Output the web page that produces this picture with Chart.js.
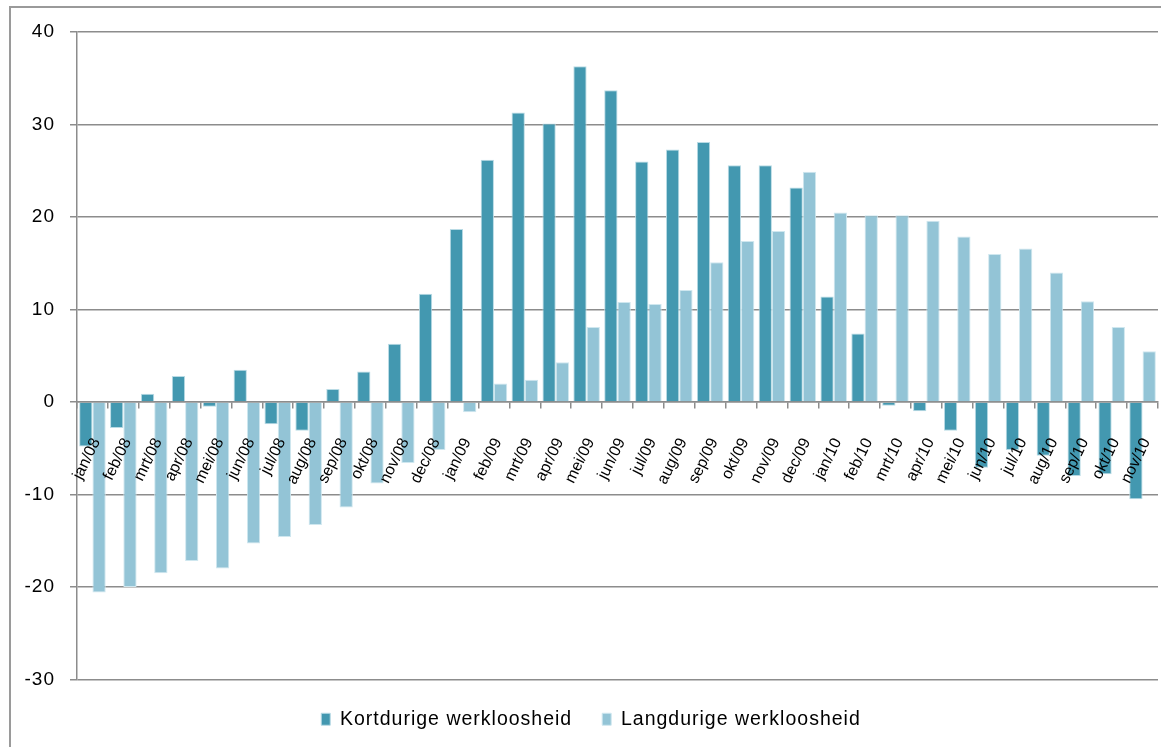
<!DOCTYPE html>
<html>
<head>
<meta charset="utf-8">
<script src="https://cdn.jsdelivr.net/npm/chart.js@4.4.0/dist/chart.umd.min.js"></script>
<style>
    html, body { margin: 0; padding: 0; background: #fff; overflow: hidden; }
    #wrap { position: relative; width: 1161px; height: 747px; }
    #frame { position: absolute; left: 9px; top: 6px; width: 1200px; height: 800px; border: 2px solid #9a9a9a; box-sizing: border-box; }
    #chart { position: absolute; left: 0; top: 0; }
</style>
</head>
<body>
<div id="wrap">
    <div id="frame"></div>
    <canvas id="chart" width="1161" height="747"></canvas>
</div>
<script>
// maanden
const maanden = ['jan/08', 'feb/08', 'mrt/08', 'apr/08', 'mei/08', 'jun/08', 'jul/08', 'aug/08', 'sep/08', 'okt/08', 'nov/08', 'dec/08',
    'jan/09', 'feb/09', 'mrt/09', 'apr/09', 'mei/09', 'jun/09', 'jul/09', 'aug/09', 'sep/09', 'okt/09', 'nov/09', 'dec/09',
    'jan/10', 'feb/10', 'mrt/10', 'apr/10', 'mei/10', 'jun/10', 'jul/10', 'aug/10', 'sep/10', 'okt/10', 'nov/10'];

// kortdurige werkloosheid
const kortdurig = [-4.8, -2.8, 0.9, 2.8, -0.5, 3.5, -2.4, -3.1, 1.4, 3.3, 6.3, 11.7,
    18.7, 26.2, 31.3, 30.1, 36.3, 33.7, 26.0, 27.3, 28.1, 25.6, 25.6, 23.2,
    11.4, 7.4, -0.4, -1.0, -3.1, -7.1, -5.2, -5.8, -8.0, -7.8, -10.5];

// langdurige werkloosheid
const langdurig = [-20.6, -20.0, -18.5, -17.2, -18.0, -15.3, -14.6, -13.3, -11.4, -8.8, -6.6, -5.2,
    -1.1, 2.0, 2.4, 4.3, 8.1, 10.8, 10.6, 12.1, 15.1, 17.4, 18.5, 24.9,
    20.5, 20.2, 20.2, 19.6, 17.9, 16.0, 16.6, 14.0, 10.9, 8.1, 5.5];

// y-as
const yMin = -30;
const yMax = 40;
const yStap = 10;

const lijnKleur = '#8c8c8c';
const lettertype = 'Liberation Sans, Arial, sans-serif';

// y-as en legenda iets breder gespatieerd, de maandlabels niet
const letterAfstand = {
    id: 'letterAfstand',
    beforeUpdate: function (chart) { chart.ctx.letterSpacing = '1px'; },
    beforeDraw: function (chart) { chart.ctx.letterSpacing = '1px'; },
    afterDatasetsDraw: function (chart) { chart.ctx.letterSpacing = '0px'; }
};

const ctx = document.getElementById('chart').getContext('2d');
const chart = new Chart(ctx, {
    type: 'bar',
    data: {
        labels: maanden,
        datasets: [
            {
                label: 'Kortdurige werkloosheid',
                data: kortdurig,
                backgroundColor: '#4398b0',
                borderColor: '#b9dbe5',
                borderWidth: 1
            },
            {
                label: 'Langdurige werkloosheid',
                data: langdurig,
                backgroundColor: '#93c4d6',
                borderColor: '#cfe7ef',
                borderWidth: 1
            }
        ]
    },
    options: {
        responsive: false,
        animation: false,
        layout: {
            padding: { top: 32, right: 3, bottom: 8, left: 24 }
        },
        datasets: {
            bar: {
                categoryPercentage: 0.86,
                barPercentage: 1.0
            }
        },
        scales: {
            x: {
                position: { y: 0 },
                afterFit: function (scale) {
                    // labels staan in het plotvlak, geen ruimte reserveren
                    scale.height = 0;
                    scale.paddingLeft = 0;
                    scale.paddingRight = 0;
                },
                grid: {
                    drawOnChartArea: false,
                    drawTicks: true,
                    tickLength: 19,
                    tickBorderDash: [6, 40],
                    color: lijnKleur,
                    lineWidth: 1.5
                },
                border: {
                    color: lijnKleur,
                    width: 1.5
                },
                ticks: {
                    z: 1,
                    autoSkip: false,
                    minRotation: 64,
                    maxRotation: 64,
                    padding: 0,
                    labelOffset: 4,
                    color: '#000',
                    // grote regelhoogte schuift de schuine labels omlaag
                    font: { family: lettertype, size: 16, lineHeight: 5.2 }
                }
            },
            y: {
                min: yMin,
                max: yMax,
                afterFit: function (scale) {
                    scale.width = 53;
                },
                ticks: {
                    stepSize: yStap,
                    padding: 15,
                    color: '#000',
                    font: { family: lettertype, size: 19 }
                },
                grid: {
                    color: lijnKleur,
                    lineWidth: 1.5,
                    tickLength: 7
                },
                border: {
                    color: lijnKleur,
                    width: 1.5
                }
            }
        },
        plugins: {
            legend: {
                position: 'bottom',
                labels: {
                    boxWidth: 9,
                    boxHeight: 12,
                    padding: 30,
                    color: '#000',
                    font: { family: lettertype, size: 19.5 }
                }
            },
            tooltip: { enabled: false }
        }
    },
    plugins: [letterAfstand]
});
</script>
</body>
</html>
